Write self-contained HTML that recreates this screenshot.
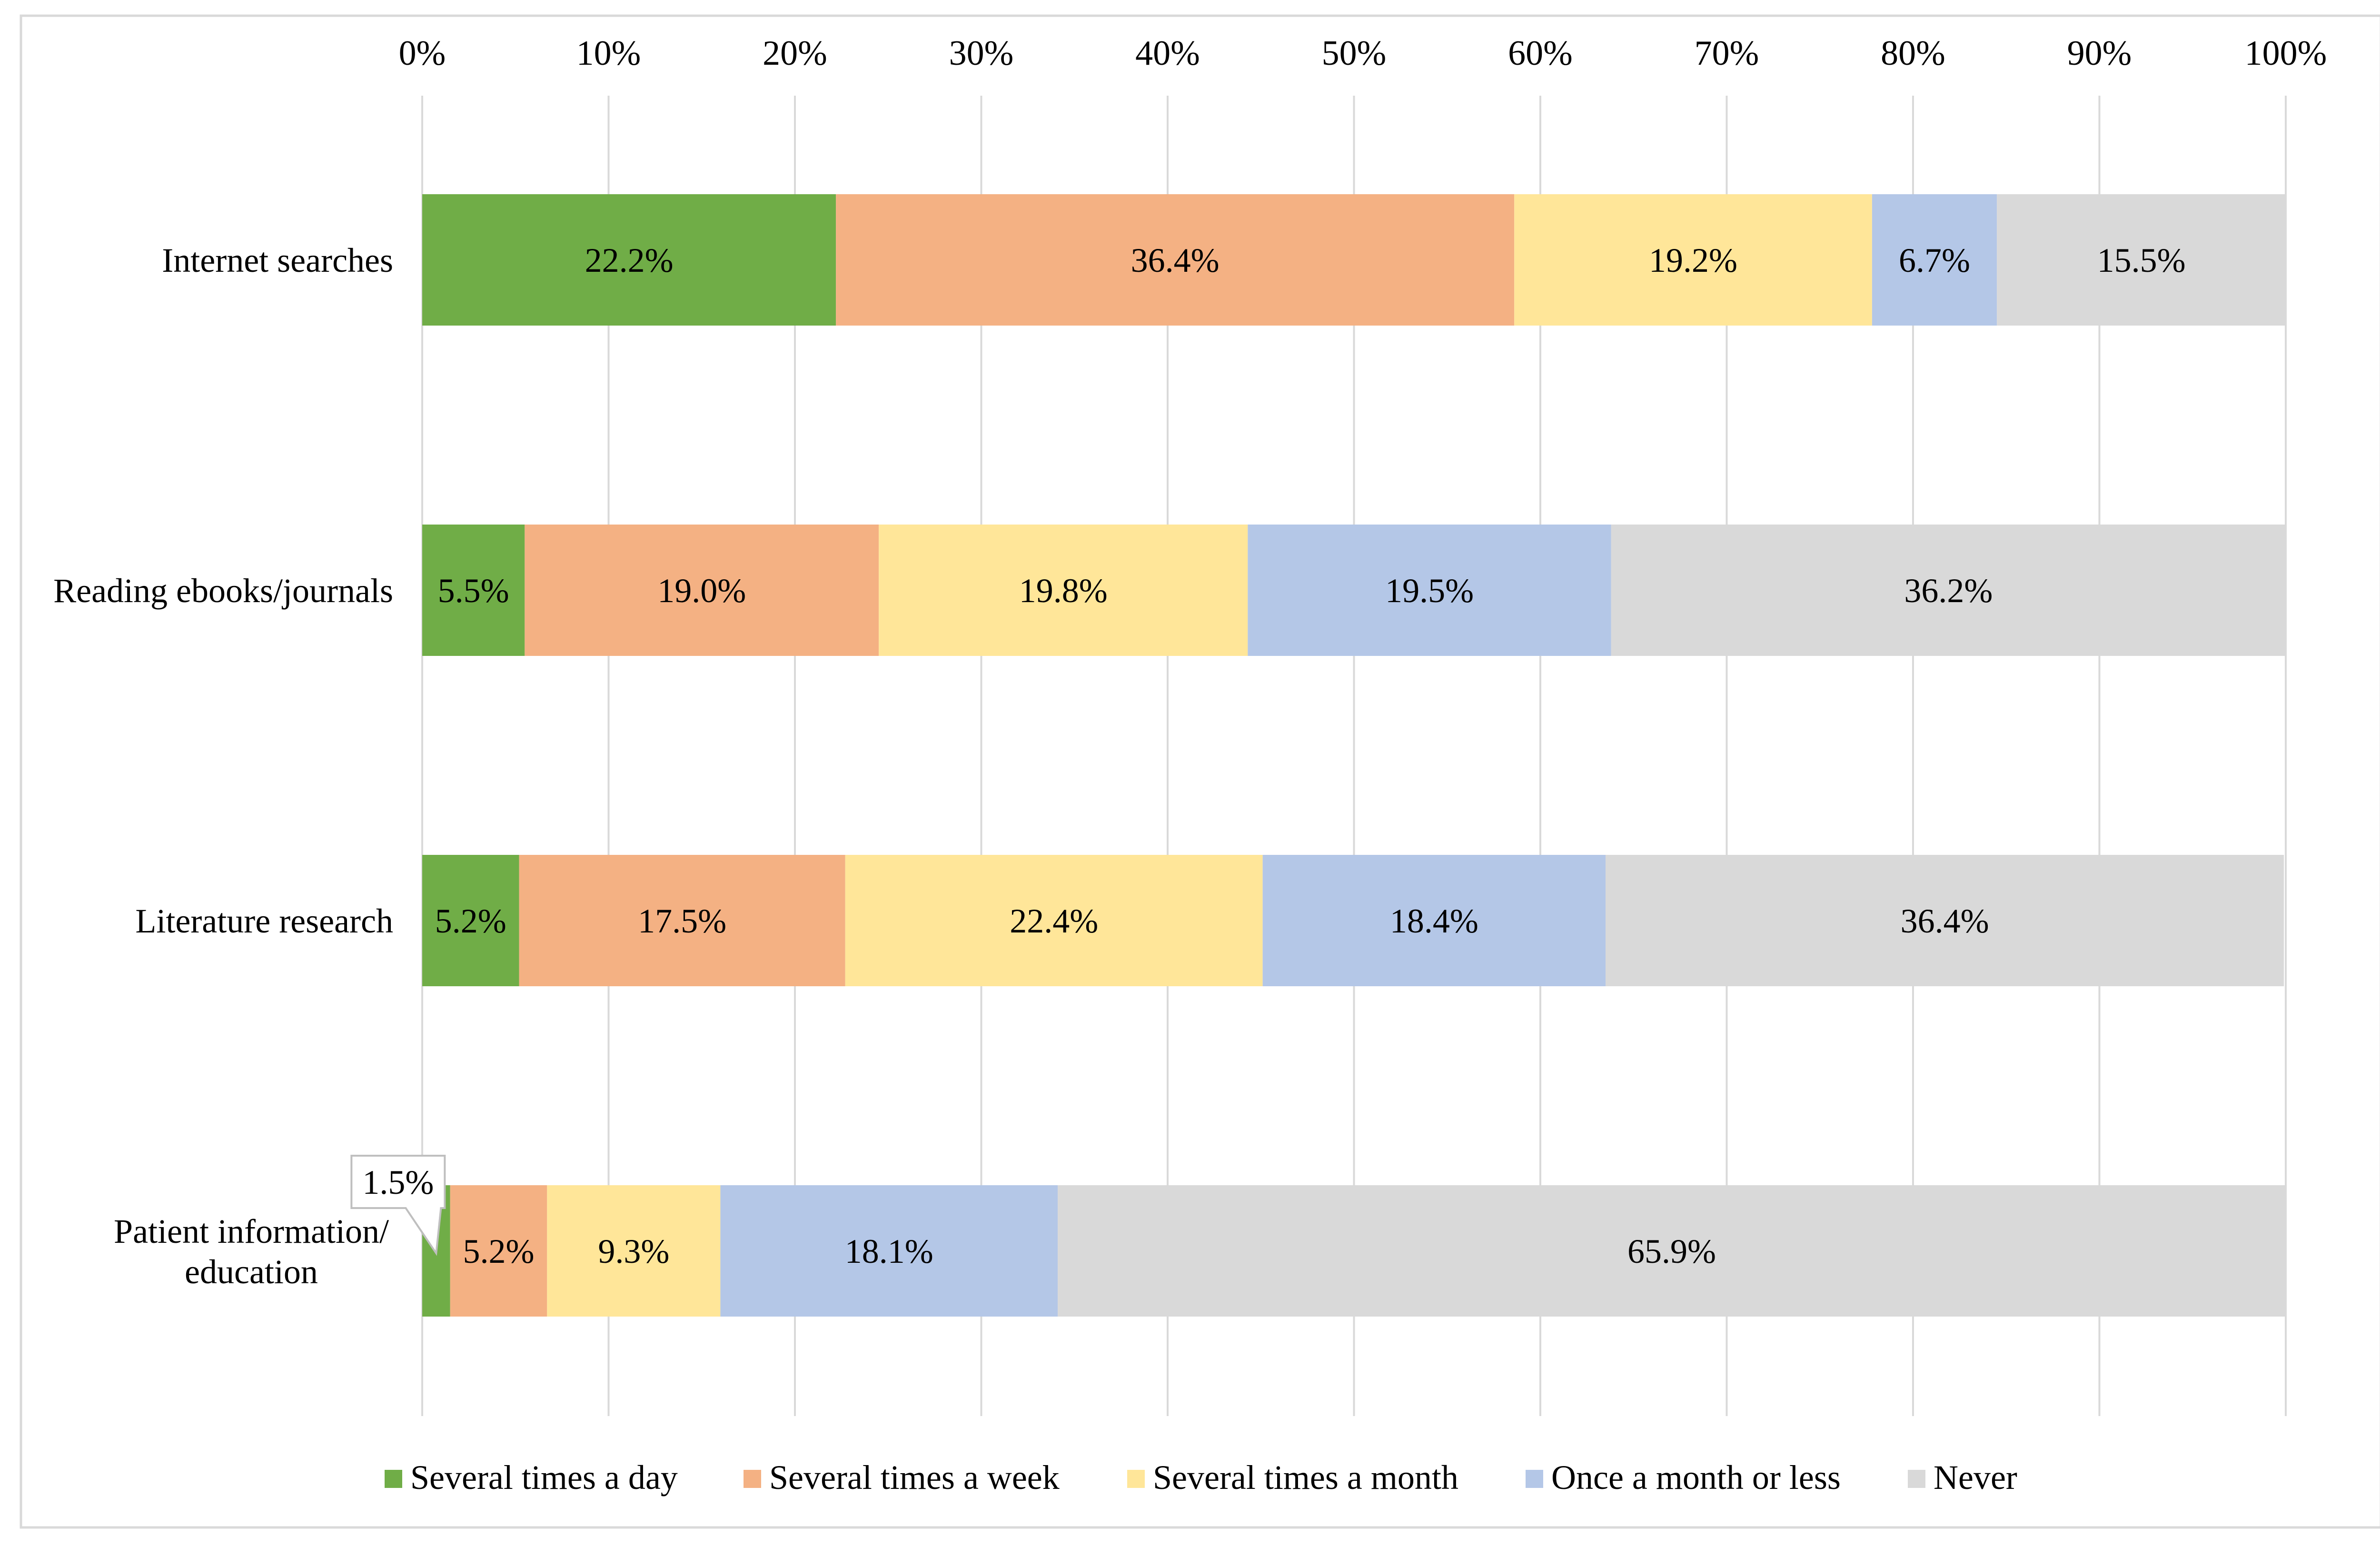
<!DOCTYPE html>
<html><head><meta charset="utf-8">
<style>
html,body{margin:0;padding:0;background:#fff;}
svg{display:block;font-family:"Liberation Serif","DejaVu Serif","Times New Roman",serif;}
svg text{font-family:"Liberation Serif","DejaVu Serif","Times New Roman",serif;fill:#000;}
</style></head>
<body>
<svg id="chart" width="5039" height="3269" viewBox="0 0 5039 3269" xmlns="http://www.w3.org/2000/svg" font-family="Liberation Serif, DejaVu Serif, serif">
<rect x="44" y="33" width="4958" height="3176" fill="#fff" stroke="#d9d9d9" stroke-width="5"/>
<g id="grid"></g>
<g id="bars"></g>
<g id="labels"></g>
<g id="legend"></g>
<text x="5010" y="3215" font-size="70" font-family="Liberation Serif, serif">.</text>
</svg>
<script>
const categories = ["Internet searches","Reading ebooks/journals","Literature research","Patient information/education"];
const seriesNames = ["Several times a day","Several times a week","Several times a month","Once a month or less","Never"];
const dailyVals = [22.2, 5.5, 5.2, 1.5];
const weeklyVals = [36.4, 19.0, 17.5, 5.2];
const monthlyVals = [19.2, 19.8, 22.4, 9.3];
const rarelyVals = [6.7, 19.5, 18.4, 18.1];
const neverVals = [15.5, 36.2, 36.4, 65.9];
const tickVals = [0,10,20,30,40,50,60,70,80,90,100];

const series = [dailyVals, weeklyVals, monthlyVals, rarelyVals, neverVals];
const colors = ["#70AD47","#F4B183","#FFE699","#B4C7E7","#D9D9D9"];
const NS = "http://www.w3.org/2000/svg";
const FF = "Liberation Serif, DejaVu Serif, serif";
const X0 = 887, X1 = 4802;
const xScale = v => X0 + (X1 - X0) * v / 100;
const rowTop = 408, rowStep = 694, barH = 276;
const yCenter = i => rowTop + barH/2 + i*rowStep;
function mk(tag, attrs, parent){const e=document.createElementNS(NS,tag);for(const k in attrs)e.setAttribute(k,attrs[k]);if(tag==='text')e.setAttribute('font-family',FF);parent.appendChild(e);return e;}

const grid = document.getElementById('grid');
tickVals.forEach(t=>{
  const l = mk('line',{x1:xScale(t),x2:xScale(t),y1:201,y2:2975,stroke:'#d9d9d9','stroke-width':4},grid);
  
  
  const tx = mk('text',{x:xScale(t),y:136,'font-size':74,'text-anchor':'middle'},grid);
  tx.textContent = t+'%';
  
  
});

const bars = document.getElementById('bars');
const labels = document.getElementById('labels');
categories.forEach((c,i)=>{
  let acc = 0;
  const yc = yCenter(i);
  series.forEach((s,j)=>{
    const v = s[i];
    const xa = xScale(acc), xb = xScale(acc+v);
    const r = mk('rect',{x:xa,y:yc-barH/2,width:xb-xa,height:barH,fill:colors[j]},bars);
    
    
    const small = v < 3;
    if(!small){
      const t = mk('text',{x:(xa+xb)/2,y:yc+25,'font-size':72,'text-anchor':'middle'},labels);
      t.textContent = v.toFixed(1)+'%';
      
      
    } else {
      const tipX = (xa+xb)/2;
      const bx1 = tipX-178, bx2 = tipX+18, by1 = yc-200, by2 = yc-90;
      const p = mk('path',{d:`M${bx1},${by1} L${bx2},${by1} L${bx2},${by2} L${tipX+10},${by2} L${tipX},${yc+5} L${tipX-64},${by2} L${bx1},${by2} Z`,fill:'#fff',stroke:'#bfbfbf','stroke-width':4},labels);
      
      
      const t = mk('text',{x:(bx1+bx2)/2,y:by1+80,'font-size':72,'text-anchor':'middle'},labels);
      t.textContent = v.toFixed(1)+'%';
      
      
    }
    acc += v;
  });
  if(c.startsWith('Patient')){
    const parts = ["Patient information/","education"];
    parts.forEach((p,k)=>{
      const t = mk('text',{x:528,y:yc-17+k*85,'font-size':72,'text-anchor':'middle'},labels);
      t.textContent = p;
      
      
    });
  } else {
    const t = mk('text',{x:826,y:yc+25,'font-size':72,'text-anchor':'end'},labels);
    t.textContent = c;
    
    
  }
});

const legend = document.getElementById('legend');
const legX = [808,1562,2368,3205,4008];
seriesNames.forEach((n,j)=>{
  const g = mk('g',{},legend);
  
  
  mk('rect',{x:legX[j],y:3088,width:37,height:38,fill:colors[j]},g);
  const t = mk('text',{x:legX[j]+54,y:3128,'font-size':72},g);
  t.textContent = n;
});
</script>
</body></html>
